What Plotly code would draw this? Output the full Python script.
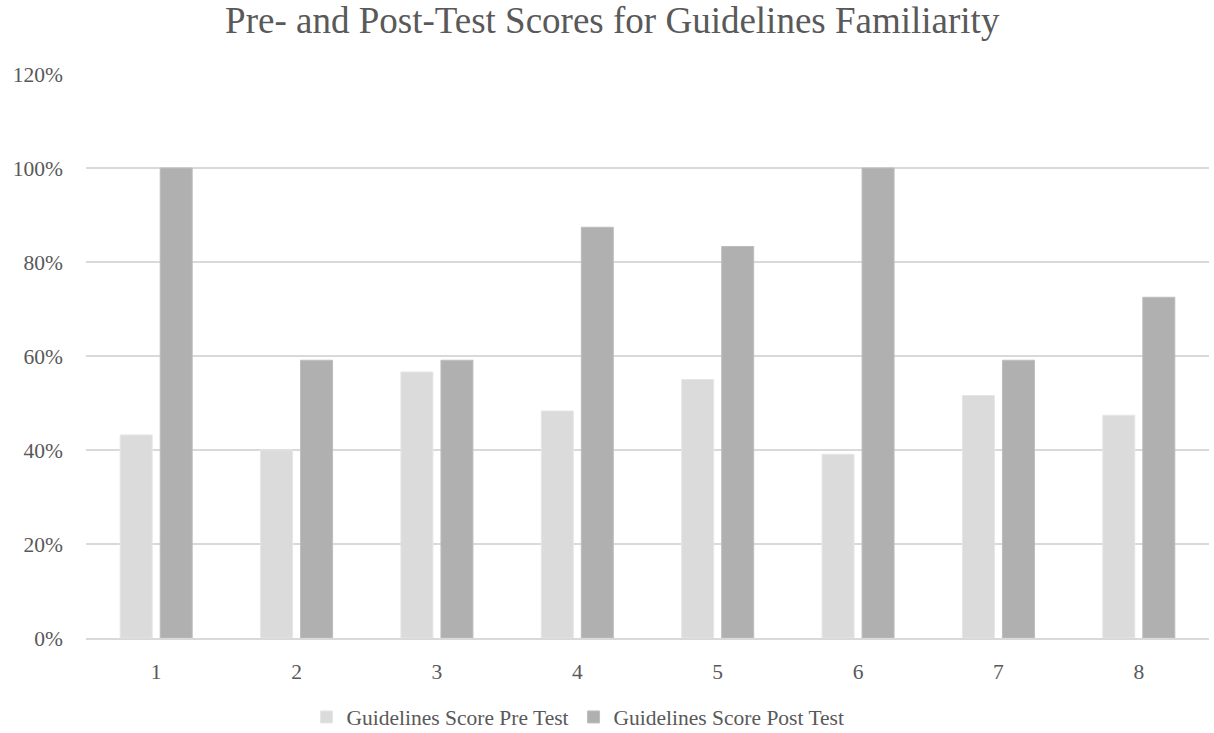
import plotly.graph_objects as go

categories = ["1", "2", "3", "4", "5", "6", "7", "8"]
pre_test = [0.432, 0.400, 0.566, 0.483, 0.550, 0.391, 0.516, 0.474]
post_test = [1.000, 0.591, 0.591, 0.874, 0.833, 1.000, 0.591, 0.725]
y_ticks = [0, 0.2, 0.4, 0.6, 0.8, 1.0, 1.2]

FONT = "Liberation Serif"
TXT = "#595959"

fig = go.Figure()
fig.add_trace(go.Bar(x=categories, y=pre_test, name="Guidelines Score Pre Test",
                     marker=dict(color="#dbdbdb", line=dict(color="#e6e6e6", width=1))))
fig.add_trace(go.Bar(x=categories, y=post_test, name="Guidelines Score Post Test",
                     marker=dict(color="#b0b0b0", line=dict(color="#bdbdbd", width=1))))

fig.update_layout(
    width=1210, height=729,
    margin=dict(l=86, r=1, t=74, b=91, autoexpand=False),
    paper_bgcolor="white", plot_bgcolor="white",
    font=dict(family=FONT, color=TXT, size=21.5),
    title=dict(text="Pre- and Post-Test Scores for Guidelines Familiarity",
               x=0.506, xanchor="center", y=0.9726, yanchor="middle",
               font=dict(family=FONT, size=37, color=TXT)),
    barmode="group", bargap=0.43, bargroupgap=0.2,
    showlegend=True,
    legend=dict(orientation="h", x=0.4777, xref="container", xanchor="center",
                y=0.0165, yref="container", yanchor="middle",
                font=dict(family=FONT, size=21.5, color=TXT),
                itemwidth=30, tracegroupgap=0),
    xaxis=dict(showgrid=False, showline=True, linecolor="#d9d9d9", linewidth=1.5,
               ticks="", ticklabelstandoff=13,
               tickfont=dict(family=FONT, size=21.5, color=TXT)),
    yaxis=dict(range=[0, 1.2], tickvals=y_ticks, tickformat=".0%",
               showgrid=True, gridcolor="#d9d9d9", gridwidth=1.5,
               zeroline=False, showline=False, ticks="",
               ticklabelstandoff=22,
               tickfont=dict(family=FONT, size=21.5, color=TXT)),
)

fig.write_html("out.html", config={"displayModeBar": False},
               post_script="document.body.style.margin='0px';")
